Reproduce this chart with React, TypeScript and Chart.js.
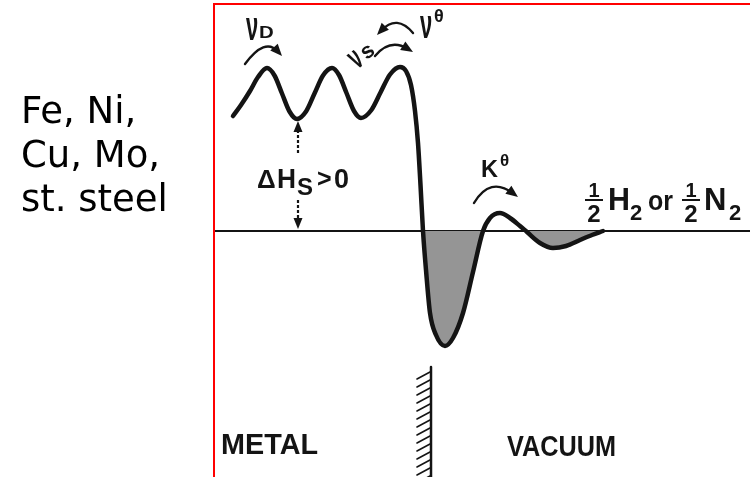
import { useEffect, useRef } from "react";
import { Chart, registerables } from "chart.js";

Chart.register(...registerables);

// Potential energy of a hydrogen/nitrogen atom vs. position (arbitrary units).
// Energy zero = ½H2 or ½N2 gas reference level.
const position = [2.0, 2.8, 3.7, 4.5, 5.4, 6.15, 6.9, 7.65, 8.4, 9.3, 10.15, 11.0, 11.9, 12.6, 13.35, 14.1, 14.8, 15.8, 16.75, 17.7, 18.7, 19.3, 19.8, 20.2, 20.5, 20.75, 21.0, 21.3, 21.7, 22.3, 23.2, 24.0, 25.0, 26.0, 27.0, 27.7, 28.7, 29.7, 30.7, 31.4, 32.7, 34.0, 35.3, 36.7, 37.9, 39.0];
const energy = [11.5, 12.6, 14.0, 15.4, 16.3, 15.55, 13.75, 11.95, 11.2, 11.95, 13.75, 15.55, 16.3, 15.6, 13.8, 12.0, 11.3, 12.05, 13.85, 15.65, 16.4, 16.0, 14.6, 12.0, 8.8, 4.6, 0, -3.9, -8.2, -10.4, -11.5, -10.7, -8.2, -4.1, 0, 1.3, 1.8, 1.3, 0.5, -0.1, -1.2, -1.7, -1.5, -0.9, -0.4, 0];

const referenceLevel = 0;
const referenceSpan = [0.2, 53.7];
const wallPosition = 21.8;
const wallSpan = [-13.6, -24.6];
const metalsList = ["Fe, Ni,", "Cu, Mo,", "st. steel"];
const regionLabels = ["METAL", "VACUUM"];

const INK = "#141414";
const SANS = '"Liberation Sans", Arial, sans-serif';

// annotation anchors (data units)
const arrowsCurved = [
  { s: [3.2, 16.7], c: [5.2, 19.4], e: [6.9, 17.5] },
  { s: [16.2, 17.5], c: [17.7, 19.3], e: [20.0, 17.9] },
  { s: [20.0, 19.8], c: [18.4, 21.7], e: [16.4, 19.6] },
  { s: [26.1, 2.8], c: [27.7, 5.5], e: [30.5, 3.4] },
];
const deltaArrowX = 8.5;

function head(ctx: CanvasRenderingContext2D, x: number, y: number, ang: number, len: number, w: number) {
  const c = Math.cos(ang), s = Math.sin(ang);
  ctx.beginPath();
  ctx.moveTo(x, y);
  ctx.lineTo(x - len * c + (w / 2) * s, y - len * s - (w / 2) * c);
  ctx.lineTo(x - len * c - (w / 2) * s, y - len * s + (w / 2) * c);
  ctx.closePath();
  ctx.fill();
}

function txt(ctx: CanvasRenderingContext2D, t: string, x: number, y: number, font: string, sx = 1, maxW?: number) {
  ctx.font = font;
  if (sx !== 1) {
    ctx.save();
    ctx.translate(x, y);
    ctx.scale(sx, 1);
    ctx.fillText(t, 0, 0);
    ctx.restore();
  } else if (maxW) {
    ctx.fillText(t, x, y, maxW);
  } else {
    ctx.fillText(t, x, y);
  }
}

function frac(ctx: CanvasRenderingContext2D, cx: number, by: number) {
  ctx.textAlign = "center";
  ctx.font = `bold 20px ${SANS}`;
  ctx.fillText("1", cx, by - 13);
  ctx.font = `bold 24px ${SANS}`;
  ctx.fillText("2", cx, by + 12);
  ctx.textAlign = "left";
  ctx.fillRect(cx - 9, by - 11, 18, 2);
}

const diagramPlugin = {
  id: "diagram",
  afterDatasetsDraw(chart: any) {
    const { ctx, scales } = chart;
    const X = (v: number) => scales.x.getPixelForValue(v);
    const Y = (v: number) => scales.y.getPixelForValue(v);
    ctx.save();
    ctx.fillStyle = INK;
    ctx.strokeStyle = INK;
    ctx.textBaseline = "alphabetic";
    ctx.textAlign = "left";
    ctx.lineCap = "round";

    // wall
    const wx = X(wallPosition), wt = Y(wallSpan[0]), wb = Y(wallSpan[1]);
    ctx.lineWidth = 2.5;
    ctx.beginPath(); ctx.moveTo(wx, wt); ctx.lineTo(wx, wb); ctx.stroke();
    ctx.lineWidth = 1.6;
    for (let y = wt + 5; y < wb + 8; y += 8) {
      ctx.beginPath(); ctx.moveTo(wx - 1, y); ctx.lineTo(wx - 14, y + 7); ctx.stroke();
    }

    // curved arrows
    for (const a of arrowsCurved) {
      const sx = X(a.s[0]), sy = Y(a.s[1]), cx = X(a.c[0]), cy = Y(a.c[1]), ex = X(a.e[0]), ey = Y(a.e[1]);
      const ang = Math.atan2(ey - cy, ex - cx);
      const bx = ex - Math.cos(ang) * 6, by = ey - Math.sin(ang) * 6;
      ctx.lineWidth = 2.4;
      ctx.beginPath(); ctx.moveTo(sx, sy); ctx.quadraticCurveTo(cx, cy, bx, by); ctx.stroke();
      head(ctx, ex, ey, ang, 12, 10);
    }

    // ΔH arrows
    const hx = X(deltaArrowX);
    ctx.lineWidth = 2.2;
    ctx.lineCap = "butt";
    ctx.setLineDash([3, 2]);
    ctx.beginPath(); ctx.moveTo(hx, Y(7.8)); ctx.lineTo(hx, Y(10.1)); ctx.stroke();
    ctx.beginPath(); ctx.moveTo(hx, Y(3.1)); ctx.lineTo(hx, Y(1.1)); ctx.stroke();
    ctx.setLineDash([]);
    head(ctx, hx, Y(11.0), -Math.PI / 2, 11, 9);
    head(ctx, hx, Y(0.2), Math.PI / 2, 11, 9);

    // ΔHs > 0
    {
      const x = X(4.4), y = Y(4.3);
      txt(ctx, "Δ", x, y, `bold 26px ${SANS}`, 1, 19);
      txt(ctx, "H", x + 20, y, `bold 27px ${SANS}`, 1, 19);
      txt(ctx, "S", x + 40, y + 7, `bold 24px ${SANS}`, 1, 17);
      txt(ctx, ">", x + 60, y - 1, `bold 25px ${SANS}`, 1, 15);
      txt(ctx, "0", x + 77, y, `bold 27px ${SANS}`, 1, 19);
    }

    // νD
    {
      const x = X(3.3), y = Y(19.1);
      txt(ctx, "ν", x, y, `bold 40px ${SANS}`, 0.55);
      txt(ctx, "D", x + 13, y - 2, `bold 17px ${SANS}`, 1.2);
    }
    // νs (tilted)
    {
      const x = X(14.9), y = Y(17.5);
      ctx.save();
      ctx.translate(x, y);
      ctx.rotate(-0.65);
      txt(ctx, "ν", -12, 8, `bold 34px ${SANS}`, 0.55);
      txt(ctx, "s", 1, 6, `bold 22px ${SANS}`);
      ctx.restore();
    }
    // νθ
    {
      const x = X(20.7), y = Y(19.3);
      txt(ctx, "ν", x, y, `bold 40px ${SANS}`, 0.55);
      txt(ctx, "θ", x + 14, y - 16, `bold 18px ${SANS}`);
    }
    // Kθ
    {
      const x = X(26.8), y = Y(5.4);
      txt(ctx, "K", x, y, `bold 24px ${SANS}`, 1, 17);
      txt(ctx, "θ", x + 19, y - 11, `bold 17px ${SANS}`);
    }
    // ½H2 or ½N2
    {
      const x = X(39.5), y = Y(2.1);
      frac(ctx, x - 14, y);
      txt(ctx, "H", x, y, `bold 31px ${SANS}`, 1, 22);
      txt(ctx, "2", x + 22, y + 10, `bold 22px ${SANS}`);
      txt(ctx, "or", x + 40, y, `bold 27px ${SANS}`, 1, 25);
      frac(ctx, x + 83, y);
      txt(ctx, "N", x + 96, y, `bold 31px ${SANS}`, 1, 23);
      txt(ctx, "2", x + 121, y + 10, `bold 22px ${SANS}`);
    }

    // region labels
    txt(ctx, regionLabels[0], X(0.8), Y(-22.3), `bold 29px ${SANS}`, 1, 97);
    txt(ctx, regionLabels[1], X(29.4), Y(-22.5), `bold 29px ${SANS}`, 1, 109);

    // metals list (left of the frame)
    ctx.fillStyle = "#000";
    ctx.font = '37px "DejaVu Sans", Verdana, sans-serif';
    metalsList.forEach((m, i) => {
      ctx.fillText(m, X(-19.2), Y(10.8 - 4.4 * i));
    });
    ctx.restore();
  },
  afterDraw(chart: any) {
    const { ctx, chartArea } = chart;
    const { left, top, right, bottom } = chartArea;
    ctx.save();
    ctx.strokeStyle = "#ff0000";
    ctx.lineWidth = 2;
    ctx.beginPath();
    ctx.moveTo(left + 1, bottom + 2);
    ctx.lineTo(left + 1, top + 1);
    ctx.lineTo(right + 2, top + 1);
    ctx.stroke();
    ctx.restore();
  },
};

export default function App() {
  const ref = useRef<HTMLCanvasElement>(null);
  useEffect(() => {
    const canvas = ref.current;
    if (!canvas) return;
    const chart = new Chart(canvas, {
      type: "line",
      data: {
        datasets: [
          {
            data: position.map((x, i) => ({ x, y: energy[i] })),
            borderColor: INK,
            borderWidth: 4.5,
            pointRadius: 0,
            cubicInterpolationMode: "monotone",
            borderCapStyle: "round",
            borderJoinStyle: "round",
            fill: { target: { value: referenceLevel }, above: "rgba(0,0,0,0)", below: "#959595" },
          },
          {
            data: referenceSpan.map((x) => ({ x, y: referenceLevel })),
            borderColor: INK,
            borderWidth: 2,
            pointRadius: 0,
            fill: false,
          },
        ],
      },
      options: {
        responsive: false,
        animation: false,
        events: [],
        layout: { padding: { left: 213, top: 3, right: 0, bottom: 0 } },
        scales: {
          x: { type: "linear", min: 0, max: 53.7, display: false },
          y: { type: "linear", min: -24.6, max: 22.8, display: false },
        },
        plugins: {
          legend: { display: false },
          tooltip: { enabled: false },
          title: { display: false },
        },
      } as any,
      plugins: [diagramPlugin as any],
    });
    return () => chart.destroy();
  }, []);
  return (
    <div style={{ position: "absolute", left: 0, top: 0, width: 750, height: 477, background: "#fff" }}>
      <canvas ref={ref} width={750} height={477} style={{ display: "block" }} />
    </div>
  );
}
